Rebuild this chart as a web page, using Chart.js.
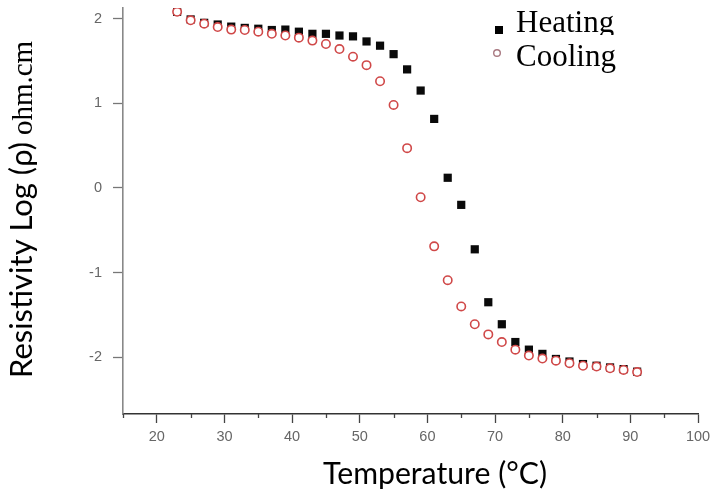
<!DOCTYPE html>
<html>
<head>
<meta charset="utf-8">
<script src="https://cdn.jsdelivr.net/npm/chart.js@4.4.1/dist/chart.umd.min.js"></script>
<style>
html,body{margin:0;padding:0;background:#fff;}
#wrap{width:715px;height:500px;position:relative;}
</style>
</head>
<body>
<div id="wrap"><canvas id="c" width="715" height="500"></canvas></div>
<script>
// ---- data ----
const temperatures = [23,25,27,29,31,33,35,37,39,41,43,45,47,49,51,53,55,57,59,61,63,65,67,69,71,73,75,77,79,81,83,85,87,89,91];
const heatingLogRho = [2.08,1.99,1.95,1.93,1.905,1.89,1.88,1.865,1.87,1.845,1.82,1.82,1.80,1.79,1.73,1.68,1.58,1.40,1.15,0.815,0.12,-0.20,-0.725,-1.35,-1.61,-1.82,-1.91,-1.96,-2.02,-2.05,-2.08,-2.10,-2.12,-2.14,-2.17];
const coolingLogRho = [2.08,1.98,1.94,1.90,1.87,1.865,1.845,1.82,1.80,1.775,1.74,1.70,1.64,1.55,1.45,1.26,0.98,0.47,-0.11,-0.69,-1.09,-1.40,-1.61,-1.73,-1.82,-1.91,-1.98,-2.015,-2.04,-2.07,-2.10,-2.11,-2.13,-2.15,-2.175];
const seriesNames = ['Heating','Cooling'];
const xTickValues = [20,30,40,50,60,70,80,90,100];
const xMinorTickValues = [15,25,35,45,55,65,75,85,95];
const yTickValues = [-2,-1,0,1,2];
const xTitle = 'Temperature (°C)';
const yTitleSans = 'Resistivity Log (ρ)';
const yTitleSerif = 'ohm.cm';

function toPoints(xs, ys){ return xs.map((x,i)=>({x:x, y:ys[i]})); }

function fitSize(ctx, text, family, target, base){
  ctx.font = base + 'px ' + family;
  const w = ctx.measureText(text).width;
  return base * target / w;
}

const decorPlugin = {
  id: 'decor',
  afterDraw(chart){
    const ctx = chart.ctx;
    const xs = chart.scales.x;
    const bottom = chart.chartArea.bottom;
    // minor x ticks
    ctx.save();
    ctx.strokeStyle = '#444';
    ctx.lineWidth = 1.3;
    xMinorTickValues.forEach(v=>{
      const px = Math.round(xs.getPixelForValue(v)) + 0.5;
      ctx.beginPath(); ctx.moveTo(px, bottom); ctx.lineTo(px, bottom + 4); ctx.stroke();
    });
    ctx.restore();

    // x title
    ctx.save();
    const fx = fitSize(ctx, xTitle, 'Lato', 224, 28);
    ctx.font = fx + 'px Lato';
    ctx.fillStyle = '#000';
    ctx.textAlign = 'center';
    ctx.textBaseline = 'alphabetic';
    ctx.fillText(xTitle, 435, 484);
    ctx.restore();

    // y title (sans part + serif part), rotated
    ctx.save();
    const fs = fitSize(ctx, yTitleSans, 'Lato', 236, 26);
    ctx.translate(32, 378);
    ctx.rotate(-Math.PI/2);
    ctx.fillStyle = '#000';
    ctx.textAlign = 'left';
    ctx.textBaseline = 'alphabetic';
    ctx.font = fs + 'px Lato';
    ctx.fillText(yTitleSans, 0, 0);
    const w1 = ctx.measureText(yTitleSans).width;
    ctx.font = '29px "Liberation Serif"';
    ctx.fillText(yTitleSerif, w1 + 7, 0);
    ctx.restore();

    // legend
    ctx.save();
    ctx.fillStyle = '#000';
    ctx.fillRect(495, 26, 8, 8);
    ctx.beginPath(); ctx.rect(0, 0, 715, 35); ctx.clip();
    ctx.font = '31px "Liberation Serif"';
    ctx.textAlign = 'left';
    ctx.textBaseline = 'alphabetic';
    ctx.fillText(seriesNames[0], 516, 32);
    ctx.restore();
    ctx.save();
    ctx.strokeStyle = '#a87880';
    ctx.lineWidth = 1.4;
    ctx.beginPath(); ctx.arc(497, 53, 3.3, 0, Math.PI*2); ctx.stroke();
    ctx.fillStyle = '#000';
    ctx.font = '31px "Liberation Serif"';
    ctx.textAlign = 'left';
    ctx.textBaseline = 'alphabetic';
    ctx.fillText(seriesNames[1], 516, 66);
    ctx.restore();
  }
};

new Chart(document.getElementById('c'), {
  type: 'scatter',
  data: {
    datasets: [
      {
        label: seriesNames[0],
        data: toPoints(temperatures, heatingLogRho),
        pointStyle: 'rect',
        pointRadius: 5.8,
        pointHoverRadius: 5.8,
        backgroundColor: '#0a0a0a',
        borderColor: '#0a0a0a',
        borderWidth: 0,
        order: 2
      },
      {
        label: seriesNames[1],
        data: toPoints(temperatures, coolingLogRho),
        pointStyle: 'circle',
        pointRadius: 4.2,
        pointHoverRadius: 4.2,
        backgroundColor: '#ffffff',
        borderColor: '#d04848',
        borderWidth: 1.6,
        order: 1
      }
    ]
  },
  plugins: [decorPlugin],
  options: {
    responsive: false,
    animation: false,
    devicePixelRatio: 1,
    layout: { padding: { top: 8, right: 17, left: 0, bottom: 0 } },
    plugins: { legend: { display: false }, tooltip: { enabled: false } },
    scales: {
      x: {
        type: 'linear',
        min: 15, max: 100,
        afterBuildTicks(scale){ scale.ticks = xTickValues.map(v=>({value:v})); },
        afterFit(scale){ scale.height = 86; scale.paddingLeft = 0; scale.paddingRight = 0; },
        grid: { drawOnChartArea: false, drawTicks: true, tickLength: 9, tickColor: '#444', tickWidth: 1.3 },
        border: { display: true, color: '#333', width: 1.5 },
        ticks: { color: '#666', font: { family: '"Liberation Sans"', size: 14.5 }, padding: 5, maxRotation: 0, autoSkip: false },
        title: { display: false }
      },
      y: {
        type: 'linear',
        min: -2.67, max: 2.125,
        afterBuildTicks(scale){ scale.ticks = yTickValues.map(v=>({value:v})); },
        afterFit(scale){ scale.width = 123; scale.paddingTop = 0; scale.paddingBottom = 0; },
        grid: { drawOnChartArea: false, drawTicks: true, tickLength: 10, tickColor: '#777', tickWidth: 1.3 },
        border: { display: true, color: '#888', width: 1.6 },
        ticks: { color: '#666', font: { family: '"Liberation Sans"', size: 14.5 }, padding: 11, autoSkip: false },
        title: { display: false }
      }
    }
  }
});
</script>
</body>
</html>
